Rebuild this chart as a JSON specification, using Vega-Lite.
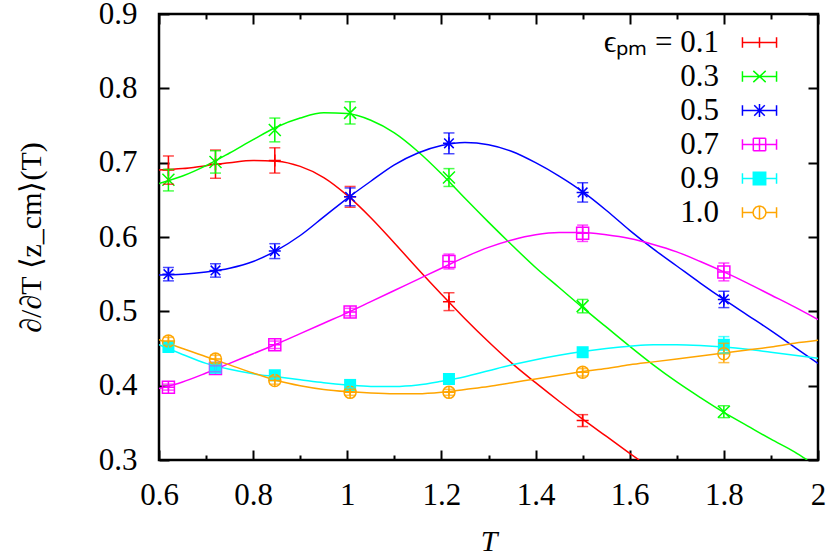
{
  "$schema": "https://vega.github.io/schema/vega-lite/v6.json",
  "width": 659,
  "height": 446,
  "autosize": "none",
  "padding": {"left": 159, "top": 14, "right": 12, "bottom": 95},
  "background": "white",
  "config": {
    "view": {"stroke": "#000000", "strokeWidth": 2.5},
    "axis": {"labelFont": "Liberation Serif", "titleFont": "Liberation Serif", "labelFontSize": 31, "titleFontSize": 30, "labelColor": "#000", "titleColor": "#000", "tickColor": "#000", "domain": false, "grid": false, "titleFontWeight": "normal", "tickWidth": 2},
    "legend": {"labelFont": "Liberation Serif"}
  },
  "datasets": {
    "curves": [
      {"eps": "0.1", "T": 0.6, "y": 0.690}, {"eps": "0.1", "T": 0.65, "y": 0.692}, {"eps": "0.1", "T": 0.7, "y": 0.696}, {"eps": "0.1", "T": 0.75, "y": 0.700}, {"eps": "0.1", "T": 0.8, "y": 0.703}, {"eps": "0.1", "T": 0.85, "y": 0.702}, {"eps": "0.1", "T": 0.9, "y": 0.695}, {"eps": "0.1", "T": 0.95, "y": 0.680}, {"eps": "0.1", "T": 1.0, "y": 0.656}, {"eps": "0.1", "T": 1.05, "y": 0.626}, {"eps": "0.1", "T": 1.1, "y": 0.592}, {"eps": "0.1", "T": 1.15, "y": 0.557}, {"eps": "0.1", "T": 1.2, "y": 0.523}, {"eps": "0.1", "T": 1.25, "y": 0.490}, {"eps": "0.1", "T": 1.3, "y": 0.459}, {"eps": "0.1", "T": 1.35, "y": 0.430}, {"eps": "0.1", "T": 1.4, "y": 0.404}, {"eps": "0.1", "T": 1.45, "y": 0.379}, {"eps": "0.1", "T": 1.5, "y": 0.355}, {"eps": "0.1", "T": 1.55, "y": 0.332}, {"eps": "0.1", "T": 1.6, "y": 0.309}, {"eps": "0.1", "T": 1.62, "y": 0.300},
      {"eps": "0.3", "T": 0.6, "y": 0.672}, {"eps": "0.3", "T": 0.65, "y": 0.682}, {"eps": "0.3", "T": 0.7, "y": 0.696}, {"eps": "0.3", "T": 0.75, "y": 0.713}, {"eps": "0.3", "T": 0.8, "y": 0.731}, {"eps": "0.3", "T": 0.85, "y": 0.748}, {"eps": "0.3", "T": 0.9, "y": 0.760}, {"eps": "0.3", "T": 0.95, "y": 0.767}, {"eps": "0.3", "T": 1.0, "y": 0.766}, {"eps": "0.3", "T": 1.05, "y": 0.757}, {"eps": "0.3", "T": 1.1, "y": 0.740}, {"eps": "0.3", "T": 1.15, "y": 0.715}, {"eps": "0.3", "T": 1.2, "y": 0.685}, {"eps": "0.3", "T": 1.25, "y": 0.652}, {"eps": "0.3", "T": 1.3, "y": 0.620}, {"eps": "0.3", "T": 1.35, "y": 0.589}, {"eps": "0.3", "T": 1.4, "y": 0.559}, {"eps": "0.3", "T": 1.45, "y": 0.532}, {"eps": "0.3", "T": 1.5, "y": 0.505}, {"eps": "0.3", "T": 1.55, "y": 0.479}, {"eps": "0.3", "T": 1.6, "y": 0.453}, {"eps": "0.3", "T": 1.65, "y": 0.428}, {"eps": "0.3", "T": 1.7, "y": 0.405}, {"eps": "0.3", "T": 1.75, "y": 0.384}, {"eps": "0.3", "T": 1.8, "y": 0.364}, {"eps": "0.3", "T": 1.85, "y": 0.346}, {"eps": "0.3", "T": 1.9, "y": 0.328}, {"eps": "0.3", "T": 1.95, "y": 0.311}, {"eps": "0.3", "T": 1.977, "y": 0.300},
      {"eps": "0.5", "T": 0.6, "y": 0.549}, {"eps": "0.5", "T": 0.65, "y": 0.550}, {"eps": "0.5", "T": 0.7, "y": 0.553}, {"eps": "0.5", "T": 0.75, "y": 0.558}, {"eps": "0.5", "T": 0.8, "y": 0.567}, {"eps": "0.5", "T": 0.85, "y": 0.582}, {"eps": "0.5", "T": 0.9, "y": 0.602}, {"eps": "0.5", "T": 0.95, "y": 0.627}, {"eps": "0.5", "T": 1.0, "y": 0.652}, {"eps": "0.5", "T": 1.05, "y": 0.675}, {"eps": "0.5", "T": 1.1, "y": 0.697}, {"eps": "0.5", "T": 1.15, "y": 0.713}, {"eps": "0.5", "T": 1.2, "y": 0.723}, {"eps": "0.5", "T": 1.25, "y": 0.727}, {"eps": "0.5", "T": 1.3, "y": 0.724}, {"eps": "0.5", "T": 1.35, "y": 0.715}, {"eps": "0.5", "T": 1.4, "y": 0.700}, {"eps": "0.5", "T": 1.45, "y": 0.682}, {"eps": "0.5", "T": 1.5, "y": 0.661}, {"eps": "0.5", "T": 1.55, "y": 0.636}, {"eps": "0.5", "T": 1.6, "y": 0.609}, {"eps": "0.5", "T": 1.65, "y": 0.584}, {"eps": "0.5", "T": 1.7, "y": 0.561}, {"eps": "0.5", "T": 1.75, "y": 0.538}, {"eps": "0.5", "T": 1.8, "y": 0.516}, {"eps": "0.5", "T": 1.85, "y": 0.495}, {"eps": "0.5", "T": 1.9, "y": 0.474}, {"eps": "0.5", "T": 1.95, "y": 0.452}, {"eps": "0.5", "T": 2.0, "y": 0.430},
      {"eps": "0.7", "T": 0.6, "y": 0.396}, {"eps": "0.7", "T": 0.65, "y": 0.405}, {"eps": "0.7", "T": 0.7, "y": 0.417}, {"eps": "0.7", "T": 0.75, "y": 0.430}, {"eps": "0.7", "T": 0.8, "y": 0.443}, {"eps": "0.7", "T": 0.85, "y": 0.456}, {"eps": "0.7", "T": 0.9, "y": 0.470}, {"eps": "0.7", "T": 0.95, "y": 0.484}, {"eps": "0.7", "T": 1.0, "y": 0.498}, {"eps": "0.7", "T": 1.05, "y": 0.513}, {"eps": "0.7", "T": 1.1, "y": 0.528}, {"eps": "0.7", "T": 1.15, "y": 0.543}, {"eps": "0.7", "T": 1.2, "y": 0.558}, {"eps": "0.7", "T": 1.25, "y": 0.573}, {"eps": "0.7", "T": 1.3, "y": 0.586}, {"eps": "0.7", "T": 1.35, "y": 0.596}, {"eps": "0.7", "T": 1.4, "y": 0.603}, {"eps": "0.7", "T": 1.45, "y": 0.606}, {"eps": "0.7", "T": 1.5, "y": 0.606}, {"eps": "0.7", "T": 1.55, "y": 0.603}, {"eps": "0.7", "T": 1.6, "y": 0.598}, {"eps": "0.7", "T": 1.65, "y": 0.590}, {"eps": "0.7", "T": 1.7, "y": 0.580}, {"eps": "0.7", "T": 1.75, "y": 0.567}, {"eps": "0.7", "T": 1.8, "y": 0.553}, {"eps": "0.7", "T": 1.85, "y": 0.538}, {"eps": "0.7", "T": 1.9, "y": 0.522}, {"eps": "0.7", "T": 1.95, "y": 0.506}, {"eps": "0.7", "T": 2.0, "y": 0.489},
      {"eps": "0.9", "T": 0.6, "y": 0.455}, {"eps": "0.9", "T": 0.65, "y": 0.442}, {"eps": "0.9", "T": 0.7, "y": 0.430}, {"eps": "0.9", "T": 0.75, "y": 0.422}, {"eps": "0.9", "T": 0.8, "y": 0.416}, {"eps": "0.9", "T": 0.85, "y": 0.412}, {"eps": "0.9", "T": 0.9, "y": 0.408}, {"eps": "0.9", "T": 0.95, "y": 0.404}, {"eps": "0.9", "T": 1.0, "y": 0.401}, {"eps": "0.9", "T": 1.05, "y": 0.399}, {"eps": "0.9", "T": 1.1, "y": 0.399}, {"eps": "0.9", "T": 1.15, "y": 0.401}, {"eps": "0.9", "T": 1.2, "y": 0.406}, {"eps": "0.9", "T": 1.25, "y": 0.412}, {"eps": "0.9", "T": 1.3, "y": 0.420}, {"eps": "0.9", "T": 1.35, "y": 0.428}, {"eps": "0.9", "T": 1.4, "y": 0.435}, {"eps": "0.9", "T": 1.45, "y": 0.441}, {"eps": "0.9", "T": 1.5, "y": 0.446}, {"eps": "0.9", "T": 1.55, "y": 0.450}, {"eps": "0.9", "T": 1.6, "y": 0.453}, {"eps": "0.9", "T": 1.65, "y": 0.455}, {"eps": "0.9", "T": 1.7, "y": 0.455}, {"eps": "0.9", "T": 1.75, "y": 0.454}, {"eps": "0.9", "T": 1.8, "y": 0.452}, {"eps": "0.9", "T": 1.85, "y": 0.449}, {"eps": "0.9", "T": 1.9, "y": 0.445}, {"eps": "0.9", "T": 1.95, "y": 0.441}, {"eps": "0.9", "T": 2.0, "y": 0.437},
      {"eps": "1.0", "T": 0.6, "y": 0.462}, {"eps": "1.0", "T": 0.65, "y": 0.450}, {"eps": "1.0", "T": 0.7, "y": 0.439}, {"eps": "1.0", "T": 0.75, "y": 0.428}, {"eps": "1.0", "T": 0.8, "y": 0.417}, {"eps": "1.0", "T": 0.85, "y": 0.407}, {"eps": "1.0", "T": 0.9, "y": 0.400}, {"eps": "1.0", "T": 0.95, "y": 0.395}, {"eps": "1.0", "T": 1.0, "y": 0.392}, {"eps": "1.0", "T": 1.05, "y": 0.390}, {"eps": "1.0", "T": 1.1, "y": 0.389}, {"eps": "1.0", "T": 1.15, "y": 0.389}, {"eps": "1.0", "T": 1.2, "y": 0.391}, {"eps": "1.0", "T": 1.25, "y": 0.395}, {"eps": "1.0", "T": 1.3, "y": 0.399}, {"eps": "1.0", "T": 1.35, "y": 0.404}, {"eps": "1.0", "T": 1.4, "y": 0.409}, {"eps": "1.0", "T": 1.45, "y": 0.414}, {"eps": "1.0", "T": 1.5, "y": 0.419}, {"eps": "1.0", "T": 1.55, "y": 0.423}, {"eps": "1.0", "T": 1.6, "y": 0.428}, {"eps": "1.0", "T": 1.65, "y": 0.432}, {"eps": "1.0", "T": 1.7, "y": 0.436}, {"eps": "1.0", "T": 1.75, "y": 0.440}, {"eps": "1.0", "T": 1.8, "y": 0.444}, {"eps": "1.0", "T": 1.85, "y": 0.448}, {"eps": "1.0", "T": 1.9, "y": 0.452}, {"eps": "1.0", "T": 1.95, "y": 0.457}, {"eps": "1.0", "T": 2.0, "y": 0.461}
    ],
    "points": [
      {"eps": "0.1", "T": 0.62, "y": 0.690, "lo": 0.671, "hi": 0.709},
      {"eps": "0.1", "T": 0.72, "y": 0.698, "lo": 0.679, "hi": 0.717},
      {"eps": "0.1", "T": 0.846, "y": 0.703, "lo": 0.686, "hi": 0.720},
      {"eps": "0.1", "T": 1.006, "y": 0.654, "lo": 0.640, "hi": 0.668},
      {"eps": "0.1", "T": 1.216, "y": 0.513, "lo": 0.501, "hi": 0.525},
      {"eps": "0.1", "T": 1.5, "y": 0.353, "lo": 0.345, "hi": 0.361},
      {"eps": "0.3", "T": 0.62, "y": 0.677, "lo": 0.662, "hi": 0.691},
      {"eps": "0.3", "T": 0.72, "y": 0.701, "lo": 0.686, "hi": 0.716},
      {"eps": "0.3", "T": 0.846, "y": 0.744, "lo": 0.728, "hi": 0.760},
      {"eps": "0.3", "T": 1.006, "y": 0.767, "lo": 0.752, "hi": 0.782},
      {"eps": "0.3", "T": 1.216, "y": 0.680, "lo": 0.668, "hi": 0.692},
      {"eps": "0.3", "T": 1.5, "y": 0.507, "lo": 0.498, "hi": 0.516},
      {"eps": "0.3", "T": 1.8, "y": 0.365, "lo": 0.357, "hi": 0.373},
      {"eps": "0.5", "T": 0.62, "y": 0.550, "lo": 0.541, "hi": 0.559},
      {"eps": "0.5", "T": 0.72, "y": 0.555, "lo": 0.546, "hi": 0.564},
      {"eps": "0.5", "T": 0.846, "y": 0.581, "lo": 0.571, "hi": 0.591},
      {"eps": "0.5", "T": 1.006, "y": 0.654, "lo": 0.642, "hi": 0.666},
      {"eps": "0.5", "T": 1.216, "y": 0.726, "lo": 0.712, "hi": 0.740},
      {"eps": "0.5", "T": 1.5, "y": 0.660, "lo": 0.647, "hi": 0.673},
      {"eps": "0.5", "T": 1.8, "y": 0.516, "lo": 0.505, "hi": 0.527},
      {"eps": "0.7", "T": 0.62, "y": 0.398, "lo": 0.394, "hi": 0.402},
      {"eps": "0.7", "T": 0.72, "y": 0.423, "lo": 0.419, "hi": 0.427},
      {"eps": "0.7", "T": 0.846, "y": 0.455, "lo": 0.450, "hi": 0.460},
      {"eps": "0.7", "T": 1.006, "y": 0.499, "lo": 0.494, "hi": 0.504},
      {"eps": "0.7", "T": 1.216, "y": 0.567, "lo": 0.557, "hi": 0.577},
      {"eps": "0.7", "T": 1.5, "y": 0.605, "lo": 0.594, "hi": 0.616},
      {"eps": "0.7", "T": 1.8, "y": 0.553, "lo": 0.541, "hi": 0.565},
      {"eps": "0.9", "T": 0.62, "y": 0.452, "lo": 0.448, "hi": 0.456},
      {"eps": "0.9", "T": 0.72, "y": 0.424, "lo": 0.420, "hi": 0.428},
      {"eps": "0.9", "T": 0.846, "y": 0.414, "lo": 0.410, "hi": 0.418},
      {"eps": "0.9", "T": 1.006, "y": 0.401, "lo": 0.397, "hi": 0.405},
      {"eps": "0.9", "T": 1.216, "y": 0.409, "lo": 0.405, "hi": 0.413},
      {"eps": "0.9", "T": 1.5, "y": 0.445, "lo": 0.440, "hi": 0.450},
      {"eps": "0.9", "T": 1.8, "y": 0.455, "lo": 0.444, "hi": 0.466},
      {"eps": "1.0", "T": 0.62, "y": 0.460, "lo": 0.455, "hi": 0.465},
      {"eps": "1.0", "T": 0.72, "y": 0.436, "lo": 0.431, "hi": 0.441},
      {"eps": "1.0", "T": 0.846, "y": 0.407, "lo": 0.402, "hi": 0.412},
      {"eps": "1.0", "T": 1.006, "y": 0.391, "lo": 0.387, "hi": 0.395},
      {"eps": "1.0", "T": 1.216, "y": 0.391, "lo": 0.387, "hi": 0.395},
      {"eps": "1.0", "T": 1.5, "y": 0.418, "lo": 0.413, "hi": 0.423},
      {"eps": "1.0", "T": 1.8, "y": 0.443, "lo": 0.431, "hi": 0.457}
    ]
  },
  "resolve": {"axis": {"x": "independent", "y": "independent"}},
  "layer": [
    {
      "data": {"name": "points"},
      "mark": {"type": "point", "filled": false, "strokeWidth": 1.5, "size": 961, "opacity": 0},
      "encoding": {
        "x": {"field": "T", "type": "quantitative", "axis": null, "scale": {"domain": [0.6, 2], "nice": false, "zero": false}},
        "y": {"field": "y", "type": "quantitative", "axis": null, "scale": {"domain": [0.3, 0.9], "nice": false, "zero": false}},
        "color": {"field": "eps", "type": "nominal",
                  "scale": {"domain": ["0.1", "0.3", "0.5", "0.7", "0.9", "1.0"], "range": ["#ff0000", "#00ff00", "#0000ff", "#ff00ff", "#00ffff", "#ffa500"]},
                  "legend": {"title": null, "orient": "none", "legendX": 584, "legendY": 12, "padding": 0, "rowPadding": 2,
                             "labelFont": "Liberation Serif", "labelFontSize": 31, "labelColor": "#000", "labelAlign": "right", "labelOffset": -57, "labelLimit": 300,
                             "symbolSize": 961, "symbolStrokeWidth": 1.5, "symbolOpacity": 1,
                             "labelExpr": "datum.value == '0.1' ? 'ϵₚₘ = 0.1' : datum.label"}},
        "shape": {"field": "eps", "type": "nominal",
                  "legend": {"title": null, "orient": "none", "legendX": 584, "legendY": 12, "padding": 0, "rowPadding": 2,
                             "labelFont": "Liberation Serif", "labelFontSize": 31, "labelColor": "#000", "labelAlign": "right", "labelOffset": -57, "labelLimit": 300,
                             "symbolSize": 961, "symbolStrokeWidth": 1.5, "symbolOpacity": 1,
                             "labelExpr": "datum.value == '0.1' ? 'ϵₚₘ = 0.1' : datum.label"},
                  "scale": {"domain": ["0.1", "0.3", "0.5", "0.7", "0.9", "1.0"], "range": [
                    "M-1.1,0L1.1,0M-1.1,-0.34L-1.1,0.34M1.1,-0.34L1.1,0.34M0,-0.34L0,0.34",
                    "M-1.1,0L1.1,0M-1.1,-0.34L-1.1,0.34M1.1,-0.34L1.1,0.34M-0.4,-0.36L0.4,0.36M-0.4,0.36L0.4,-0.36",
                    "M-1.1,0L1.1,0M-1.1,-0.34L-1.1,0.34M1.1,-0.34L1.1,0.34M0,-0.42L0,0.42M-0.34,-0.34L0.34,0.34M-0.34,0.34L0.34,-0.34",
                    "M-1.1,0L1.1,0M-1.1,-0.34L-1.1,0.34M1.1,-0.34L1.1,0.34M-0.4,-0.4L0.4,-0.4M0.4,-0.4L0.4,0.4M0.4,0.4L-0.4,0.4M-0.4,0.4L-0.4,-0.4M0,-0.4L0,0.4",
                    "M-1.1,0L1.1,0M-1.1,-0.34L-1.1,0.34M1.1,-0.34L1.1,0.34M-0.4,-0.4L0.4,-0.4L0.4,0.4L-0.4,0.4ZM-0.4,-0.32L0.4,-0.32M-0.4,-0.24L0.4,-0.24M-0.4,-0.16L0.4,-0.16M-0.4,-0.08L0.4,-0.08M-0.4,0.08L0.4,0.08M-0.4,0.16L0.4,0.16M-0.4,0.24L0.4,0.24M-0.4,0.32L0.4,0.32",
                    "M-1.1,0L-0.42,0M0.42,0L1.1,0M-1.1,-0.34L-1.1,0.34M1.1,-0.34L1.1,0.34M0.42,0L0.364,0.21M0.364,0.21L0.21,0.364M0.21,0.364L0,0.42M0,0.42L-0.21,0.364M-0.21,0.364L-0.364,0.21M-0.364,0.21L-0.42,0M-0.42,0L-0.364,-0.21M-0.364,-0.21L-0.21,-0.364M-0.21,-0.364L0,-0.42M0,-0.42L0.21,-0.364M0.21,-0.364L0.364,-0.21M0.364,-0.21L0.42,0M0,-0.42L0,0.42"]}}
      }
    },
    {
      "data": {"name": "curves"},
      "mark": {"type": "line", "strokeWidth": 1.5, "interpolate": "monotone", "clip": true},
      "encoding": {
        "x": {"field": "T", "type": "quantitative",
              "axis": {"orient": "bottom", "values": [0.6, 0.8, 1, 1.2, 1.4, 1.6, 1.8, 2], "format": "~g", "tickSize": -10, "labelPadding": 30, "title": "T", "titleFontStyle": "italic", "titlePadding": 16, "labelFlush": false, "labelFont": "Liberation Serif", "titleFont": "Liberation Serif"}},
        "y": {"field": "y", "type": "quantitative",
              "axis": {"orient": "left", "values": [0.3, 0.4, 0.5, 0.6, 0.7, 0.8, 0.9], "format": ".1f", "tickSize": -10, "labelPadding": 32, "title": "∂/∂T ⟨z_cm⟩(T)", "titlePadding": 52, "labelFlush": false, "labelFont": "Liberation Serif", "titleFont": "Liberation Serif"}},
        "color": {"field": "eps", "type": "nominal", "legend": null}
      }
    },
    {
      "data": {"name": "points"},
      "transform": [{"filter": {"field": "eps", "equal": "0.1"}}],
      "mark": {"type": "point", "filled": false, "strokeWidth": 1.5, "size": 144, "opacity": 1, "shape": "M-1,0L1,0M0,-1L0,1"},
      "encoding": {
        "x": {"field": "T", "type": "quantitative", "axis": {"orient": "bottom", "values": [0.7, 0.9, 1.1, 1.3, 1.5, 1.7, 1.9], "tickSize": -5, "labels": false, "title": null}},
        "y": {"field": "y", "type": "quantitative", "axis": {"orient": "right", "values": [0.3, 0.4, 0.5, 0.6, 0.7, 0.8, 0.9], "tickSize": -10, "labels": false, "title": null}},
        "color": {"field": "eps", "type": "nominal", "legend": null}
      }
    },
    {
      "data": {"name": "points"},
      "transform": [{"filter": {"field": "eps", "equal": "0.3"}}],
      "mark": {"type": "point", "filled": false, "strokeWidth": 1.5, "size": 144, "opacity": 1, "shape": "M-1,-1L1,1M-1,1L1,-1"},
      "encoding": {
        "x": {"field": "T", "type": "quantitative", "axis": null},
        "y": {"field": "y", "type": "quantitative", "axis": null},
        "color": {"field": "eps", "type": "nominal", "legend": null}
      }
    },
    {
      "data": {"name": "points"},
      "transform": [{"filter": {"field": "eps", "equal": "0.5"}}],
      "mark": {"type": "point", "filled": false, "strokeWidth": 1.5, "size": 144, "opacity": 1, "shape": "M-1,0L1,0M0,-1L0,1M-0.8,-0.8L0.8,0.8M-0.8,0.8L0.8,-0.8"},
      "encoding": {
        "x": {"field": "T", "type": "quantitative", "axis": null},
        "y": {"field": "y", "type": "quantitative", "axis": null},
        "color": {"field": "eps", "type": "nominal", "legend": null}
      }
    },
    {
      "data": {"name": "points"},
      "transform": [{"filter": {"field": "eps", "equal": "0.7"}}],
      "mark": {"type": "point", "filled": false, "strokeWidth": 1.5, "size": 144, "opacity": 1, "shape": "M-1,-1L1,-1L1,1L-1,1ZM-1,0L1,0M0,-1L0,1"},
      "encoding": {
        "x": {"field": "T", "type": "quantitative", "axis": null},
        "y": {"field": "y", "type": "quantitative", "axis": null},
        "color": {"field": "eps", "type": "nominal", "legend": null}
      }
    },
    {
      "data": {"name": "points"},
      "transform": [{"filter": {"field": "eps", "equal": "0.9"}}],
      "mark": {"type": "point", "filled": true, "size": 144, "opacity": 1, "shape": "square"},
      "encoding": {
        "x": {"field": "T", "type": "quantitative", "axis": null},
        "y": {"field": "y", "type": "quantitative", "axis": null},
        "color": {"field": "eps", "type": "nominal", "legend": null}
      }
    },
    {
      "data": {"name": "points"},
      "transform": [{"filter": {"field": "eps", "equal": "1.0"}}],
      "mark": {"type": "point", "filled": false, "strokeWidth": 1.5, "size": 144, "opacity": 1, "shape": "M1,0A1,1,0,1,1,-1,0A1,1,0,1,1,1,0ZM-1,0L1,0M0,-1L0,1"},
      "encoding": {
        "x": {"field": "T", "type": "quantitative", "axis": null},
        "y": {"field": "y", "type": "quantitative", "axis": null},
        "color": {"field": "eps", "type": "nominal", "legend": null}
      }
    },
    {
      "data": {"name": "points"},
      "mark": {"type": "rule", "strokeWidth": 1.5},
      "encoding": {
        "x": {"field": "T", "type": "quantitative", "axis": {"orient": "top", "values": [0.6, 0.8, 1, 1.2, 1.4, 1.6, 1.8, 2], "tickSize": -10, "labels": false, "title": null}},
        "y": {"field": "lo", "type": "quantitative", "axis": null},
        "y2": {"field": "hi"},
        "color": {"field": "eps", "type": "nominal", "legend": null}
      }
    },
    {
      "data": {"name": "points"},
      "mark": {"type": "tick", "orient": "horizontal", "thickness": 1.5, "size": 11},
      "encoding": {
        "x": {"field": "T", "type": "quantitative", "axis": {"orient": "top", "values": [0.7, 0.9, 1.1, 1.3, 1.5, 1.7, 1.9], "tickSize": -5, "labels": false, "title": null}},
        "y": {"field": "lo", "type": "quantitative", "axis": null},
        "color": {"field": "eps", "type": "nominal", "legend": null}
      }
    },
    {
      "data": {"name": "points"},
      "mark": {"type": "tick", "orient": "horizontal", "thickness": 1.5, "size": 11},
      "encoding": {
        "x": {"field": "T", "type": "quantitative", "axis": null},
        "y": {"field": "hi", "type": "quantitative", "axis": null},
        "color": {"field": "eps", "type": "nominal", "legend": null}
      }
    }
  ]
}
